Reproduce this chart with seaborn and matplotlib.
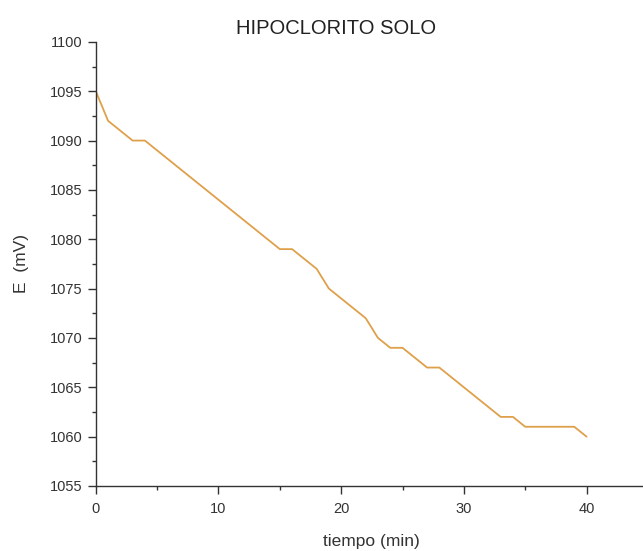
import matplotlib
matplotlib.use("Agg")
import matplotlib.pyplot as plt
from matplotlib.ticker import MultipleLocator
import seaborn as sns
import pandas as pd

# Potential readings of hypochlorite alone, one per minute
tiempo = list(range(0, 41))
potencial = [1095, 1092, 1091, 1090, 1090, 1089, 1088, 1087, 1086, 1085,
             1084, 1083, 1082, 1081, 1080, 1079, 1079, 1078, 1077, 1075,
             1074, 1073, 1072, 1070, 1069, 1069, 1068, 1067, 1067, 1066,
             1065, 1064, 1063, 1062, 1062, 1061, 1061, 1061, 1061, 1061,
             1060]

df = pd.DataFrame({"tiempo (min)": tiempo, "E (mV)": potencial})

sns.set_theme(style="ticks")
plt.rcParams["font.family"] = ["Liberation Sans", "DejaVu Sans"]

fig = plt.figure(figsize=(6.43, 5.51), dpi=100)
ax = fig.add_axes([0.149, 0.118, 0.851, 0.806])

sns.lineplot(data=df, x="tiempo (min)", y="E (mV)", ax=ax,
             color="#DFA04A", linewidth=1.3)

ax.set_xlim(0, 44.6)
ax.set_ylim(1055, 1100)
ax.xaxis.set_major_locator(MultipleLocator(10))
ax.xaxis.set_minor_locator(MultipleLocator(5))
ax.yaxis.set_major_locator(MultipleLocator(5))
ax.yaxis.set_minor_locator(MultipleLocator(2.5))

sns.despine(ax=ax)
for side in ("left", "bottom"):
    ax.spines[side].set_color("#333333")
    ax.spines[side].set_linewidth(1.0)

ax.tick_params(which="major", direction="out", length=5.5, width=1.0,
               color="#333333", labelsize=10.5, labelcolor="#333333", pad=4)
ax.tick_params(axis="x", which="major", pad=6)
ax.tick_params(which="minor", direction="out", length=3, width=1.0,
               color="#333333")

ax.set_xlabel("tiempo (min)", fontsize=12.5, color="#333333")
ax.xaxis.set_label_coords(0.503, -0.108)
ax.set_ylabel("E  (mV)", fontsize=12.5, color="#333333")
ax.yaxis.set_label_coords(-0.122, 0.5)
ax.set_title("HIPOCLORITO SOLO", fontsize=14.5, color="#222222",
             x=0.439, pad=6)

fig.savefig("out.png", dpi=100)
